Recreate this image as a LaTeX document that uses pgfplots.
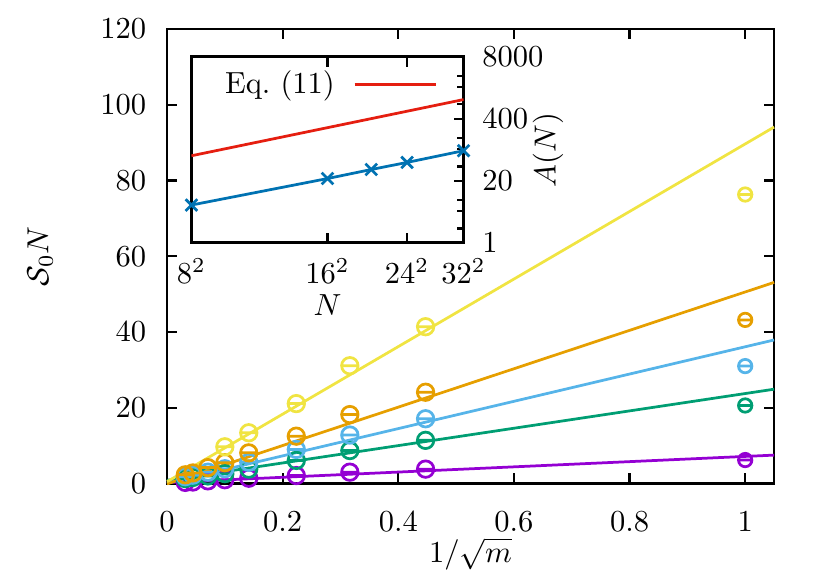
\documentclass[border=0pt]{standalone}
\usepackage{pgfplots}
\pgfplotsset{compat=1.18}
\definecolor{cpurple}{HTML}{9400D3}
\definecolor{cgreen}{HTML}{009E73}
\definecolor{clblue}{HTML}{56B4E9}
\definecolor{corange}{HTML}{E69F00}
\definecolor{cyellow}{HTML}{F0E442}
\definecolor{cblue}{HTML}{0072B2}
\definecolor{cred}{HTML}{E51E10}
\pgfdeclareplotmark{ominus}{%
  \pgfpathcircle{\pgfpointorigin}{\pgfplotmarksize}%
  \pgfpathmoveto{\pgfpoint{-\pgfplotmarksize}{0pt}}%
  \pgfpathlineto{\pgfpoint{\pgfplotmarksize}{0pt}}%
  \pgfusepathqstroke}
\begin{document}
\begin{tikzpicture}
\begin{axis}[
  at={(0,0)}, anchor=south west, scale only axis,
  width=199pt, height=149pt,
  xmin=0, xmax=1.05, ymin=0, ymax=120,
  xtick={0,0.2,0.4,0.6,0.8,1}, ytick={0,20,40,60,80,100,120},
  xticklabels={0,0.2,0.4,0.6,0.8,1},
  tick align=inside, major tick length=3.3pt,
  xtick pos=both, ytick pos=both,
  xticklabel pos=lower, yticklabel pos=left,
  xticklabel style={yshift=-5.5pt}, yticklabel style={xshift=-3.3pt},
  axis line style={line width=0.9pt},
  every tick/.append style={line width=0.7pt, black},
  xlabel={$1/\sqrt{m}$}, ylabel={$\mathcal{S}_0 N$},
  xlabel style={at={(axis description cs:0.5,-0.155)}, anchor=center},
  ylabel style={at={(axis description cs:-0.209,0.5)}, anchor=center},
  clip=false,
]
% purple
\addplot[cpurple, line width=0.9pt] coordinates {(0,0.27) (1.05,7.5)};
\addplot[cpurple, only marks, mark=ominus, mark size=2.7pt, mark options={line width=0.9pt}] coordinates {
(0.4472,3.8) (0.3162,3.0) (0.2236,2.1) (0.1414,1.4) (0.1,1.0) (0.0707,0.7) (0.0447,0.4) (0.0316,0.3)};
\addplot[cpurple, only marks, mark=ominus, mark size=2.2pt, mark options={line width=0.9pt}] coordinates {(1,6.2)};
% green
\addplot[cgreen, line width=0.9pt] coordinates {(0,0.85) (1.05,24.9)};
\addplot[cgreen, only marks, mark=ominus, mark size=2.7pt, mark options={line width=0.9pt}] coordinates {
(0.4472,11.4) (0.3162,8.7) (0.2236,6.1) (0.1414,3.8) (0.1,2.6) (0.0707,2.0) (0.0447,1.6) (0.0316,1.3)};
\addplot[cgreen, only marks, mark=ominus, mark size=2.2pt, mark options={line width=0.9pt}] coordinates {(1,20.6)};
% light blue
\addplot[clblue, line width=0.9pt] coordinates {(0,0.1) (1.05,37.9)};
\addplot[clblue, only marks, mark=ominus, mark size=2.7pt, mark options={line width=0.9pt}] coordinates {
(0.4472,17.1) (0.3162,12.8) (0.2236,9.0) (0.1414,5.6) (0.1,3.9) (0.0707,3.0) (0.0447,2.2) (0.0316,1.8)};
\addplot[clblue, only marks, mark=ominus, mark size=2.2pt, mark options={line width=0.9pt}] coordinates {(1,31.0)};
% orange
\addplot[corange, line width=0.9pt] coordinates {(0,-0.1) (1.05,53.1)};
\addplot[corange, only marks, mark=ominus, mark size=2.7pt, mark options={line width=0.9pt}] coordinates {
(0.4472,24.1) (0.3162,18.2) (0.2236,12.5) (0.1414,8.1) (0.1,5.5) (0.0707,4.2) (0.0447,2.8) (0.0316,2.3)};
\addplot[corange, only marks, mark=ominus, mark size=2.2pt, mark options={line width=0.9pt}] coordinates {(1,43.2)};
% yellow
\addplot[cyellow, line width=0.9pt] coordinates {(0,0.48) (1.05,94.1)};
\addplot[cyellow, only marks, mark=ominus, mark size=2.7pt, mark options={line width=0.9pt}] coordinates {
(0.4472,41.4) (0.3162,31.1) (0.2236,21.1) (0.1414,13.4) (0.1,9.7)};
\addplot[cyellow, only marks, mark=ominus, mark size=2.2pt, mark options={line width=0.9pt}] coordinates {(1,76.3)};
\end{axis}
\begin{axis}[
  at={(8pt,78.9pt)}, anchor=south west, scale only axis,
  width=89.2pt, height=61pt,
  xmode=log, ymode=log,
  xmin=64, xmax=1024, ymin=1, ymax=8000,
  xtick={64,256,576,1024}, xticklabels={$8^2$,$16^2$,$24^2$,$32^2$},
  ytick={1,20,400,8000}, yticklabels={1,20,400,8000},
  minor xtick={},
  minor ytick={2,4.7,8,40,94,160,800,1880,3200},
  tick align=inside, major tick length=3.3pt, minor tick length=2pt,
  xtick pos=both, xticklabel pos=lower,
  ytick pos=right, yticklabel pos=right,
  xticklabel style={yshift=-1.7pt}, yticklabel style={xshift=2.6pt},
  axis line style={line width=0.9pt},
  every tick/.append style={line width=0.7pt, black},
  axis background/.style={fill=white},
  xlabel={$N$}, ylabel={$A(N)$},
  xlabel style={at={(axis description cs:0.5,-0.333)}, anchor=center},
  ylabel style={at={(axis description cs:1.31,0.5)}, anchor=center},
  legend plot pos=right,
  legend style={at={(axis description cs:0.907,0.849)}, anchor=east, draw=none, fill=none,
    inner xsep=0pt, inner ysep=0pt, column sep=4pt},
  legend image code/.code={\draw[#1] (0pt,0pt) -- (26.8pt,0pt);},
]
\addplot[cred, line width=0.9pt] coordinates {(64,67) (1024,1011)};
\addlegendentry{Eq.~(11)}
\addplot[cblue, line width=0.9pt, mark=x, mark size=2.7pt, mark options={line width=0.9pt}, forget plot] coordinates {
(64,6.2) (256,22.3) (400,34.5) (576,48.6) (1024,85.5)};
\end{axis}
\pgfresetboundingbox
\path[use as bounding box] (-54.75pt,-28.4pt) rectangle (217pt,158.5pt);
\end{tikzpicture}
\end{document}
